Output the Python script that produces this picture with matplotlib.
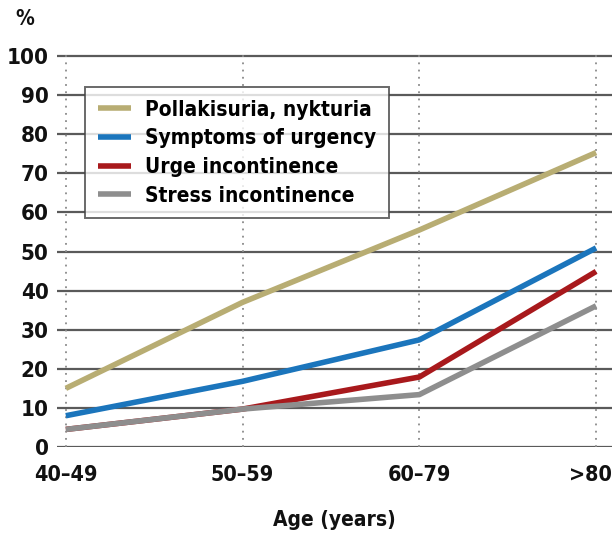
import matplotlib.pyplot as plt
from matplotlib.transforms import ScaledTranslation

plt.rcParams['font.family'] = ['DejaVu Sans']
plt.rcParams['font.stretch'] = 'condensed'
plt.rcParams['font.weight'] = 'bold'
plt.rcParams['axes.labelweight'] = 'bold'

# data
ages = ['40–49', '50–59', '60–79', '>80']
pollakisuria = [15, 37, 55.5, 75.3]
urgency = [8, 16.8, 27.4, 50.9]
urge_incont = [4.5, 9.7, 17.9, 44.9]
stress_incont = [4.5, 9.7, 13.4, 36.1]
yticks = list(range(0, 101, 10))

fig = plt.figure(figsize=(6.12, 5.36), dpi=100)
# axes: y=0 at 447 px, y=100 at 56 px
ax = fig.add_axes([57 / 612, 1 - 447 / 536, (612 - 57) / 612, (447 - 50) / 536])

x = list(range(len(ages)))

# grid
for t in yticks:
    ax.axhline(t, color='#5a5a5a', lw=1.6, zorder=1)
for xi in x:
    ax.axvline(xi, color='#8a8a8a', lw=1.3, ls=(0, (1, 3)), zorder=1)

ax.plot(x, pollakisuria, color='#b8ad73', lw=4, label='Pollakisuria, nykturia', zorder=3, solid_capstyle='butt')
ax.plot(x, urgency, color='#1b75bc', lw=4, label='Symptoms of urgency', zorder=3, solid_capstyle='butt')
ax.plot(x, urge_incont, color='#a8191c', lw=4, label='Urge incontinence', zorder=3, solid_capstyle='butt')
ax.plot(x, stress_incont, color='#8e8e8e', lw=4, label='Stress incontinence', zorder=4, solid_capstyle='butt')

ax.set_xlim(-0.05, 3.09)
ax.set_ylim(0, 100 * 397 / 391)
ax.set_yticks(yticks)
ax.set_xticks(x)
ax.set_xticklabels(ages)
for s in ax.spines.values():
    s.set_visible(False)
ax.tick_params(axis='both', length=0, labelsize=16, colors='#111111')
ax.tick_params(axis='y', pad=6)
ax.tick_params(axis='x', pad=13, labelsize=15.5)
# last label sits against the right edge
last = ax.get_xticklabels()[-1]
last.set_horizontalalignment('right')
last.set_transform(last.get_transform() + ScaledTranslation(0.16, 0, fig.dpi_scale_trans))

ax.set_xlabel('Age (years)', fontsize=15, labelpad=18, color='#111111')
fig.text(25 / 612, 1 - 19 / 536, '%', fontsize=15, ha='center', va='center', color='#111111')

leg = ax.legend(loc='upper left', bbox_to_anchor=((85 - 57) / 555, 1 - (87 - 50) / 397),
                fontsize=15, frameon=True, fancybox=False, edgecolor='#444444',
                handlelength=1.6, handletextpad=0.7, borderpad=0.6, labelspacing=0.42,
                borderaxespad=0)
leg.get_frame().set_linewidth(1.4)
leg.set_zorder(5)

fig.savefig('out.png', dpi=100)
